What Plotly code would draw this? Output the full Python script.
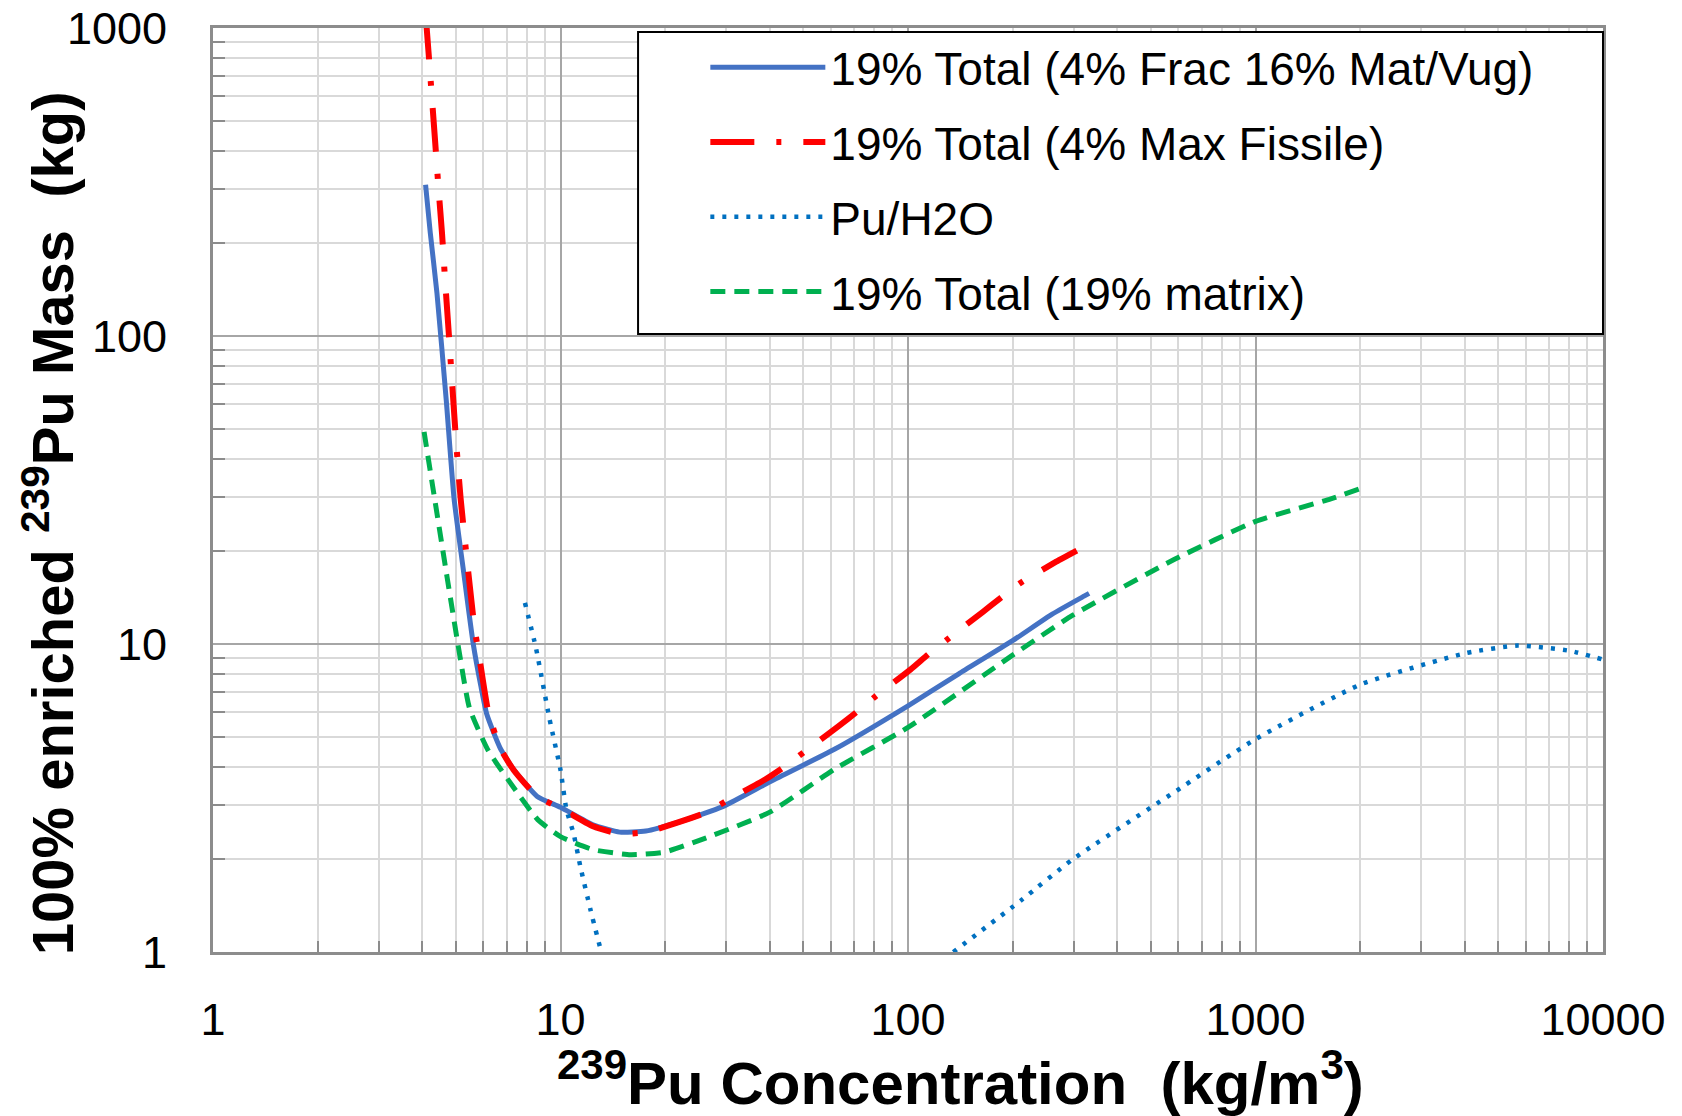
import plotly.graph_objects as go

# ---- data ----
frac_x = [4.09, 4.22, 4.41, 4.69, 4.94, 5.25, 5.61, 5.9, 6.14, 6.7, 7.33, 8.57, 10, 12.4, 14.8,
          17.6, 21.9, 29.4, 39.9, 61.6, 100, 140, 200, 260, 321, 332]
frac_y = [310, 216, 138, 62, 29.6, 17.5, 10, 7.3, 5.9, 4.6, 3.91, 3.2, 2.95, 2.59, 2.45,
          2.47, 2.64, 2.97, 3.56, 4.56, 6.3, 8.0, 10.25, 12.5, 14.3, 14.6]

maxf_x = [4.09, 4.12, 4.22, 4.36, 4.46, 4.56, 4.66, 4.77, 4.99, 5.16, 5.64, 5.9, 6.2, 6.7, 7.33,
          8.57, 10, 12.4, 14.8, 17.6, 21.9, 26.3, 30.1, 39.1, 44.3, 50.1, 63, 71.5, 80.5,
          101.6, 114, 129, 164, 184.5, 209, 267, 306]
maxf_y = [1100, 1000, 700, 424, 298, 216, 149, 102, 48, 29.6, 11.6, 8.4, 6.0, 4.6, 3.9,
          3.2, 2.93, 2.56, 2.42, 2.45, 2.64, 2.84, 3.10, 3.65, 4.01, 4.45, 5.4, 6.04, 6.75,
          8.26, 9.23, 10.3, 12.7, 14.1, 15.7, 18.5, 20.1]

puh2o_x = [7.9, 8.5, 9.3, 10, 10.4, 10.9, 11.4, 12.2, 13.1, None,
           135, 213, 298, 583, 1000, 2018, 4045, 5690, 8040, 10000]
puh2o_y = [13.6, 9.7, 5.7, 3.9, 2.9, 2.43, 1.9, 1.37, 1.0, None,
           1.0, 1.48, 2.0, 3.3, 4.91, 7.41, 9.35, 9.88, 9.5, 8.9]

matrix_x = [4.05, 4.35, 4.72, 5.09, 5.47, 6.2, 7.4, 8.6, 10, 12.4, 15.9, 19.9, 25.8, 39.9,
            61.6, 100, 200, 298, 583, 1000, 1647, 2026]
matrix_y = [48.8, 29.3, 16.4, 9.7, 6.2, 4.5, 3.37, 2.69, 2.37, 2.15, 2.07, 2.11, 2.33, 2.84,
            3.93, 5.36, 9.2, 12.4, 18.8, 25.0, 29.6, 32.1]

series_names = ["19% Total (4% Frac 16% Mat/Vug)", "19% Total (4% Max Fissile)",
                "Pu/H2O", "19% Total (19% matrix)"]

x_tickvals = [1, 10, 100, 1000, 10000]
x_ticktext = ["1", "10", "100", "1000", "10000"]
y_tickvals = [1, 10, 100, 1000]
y_ticktext = ["1", "10", "100", "1000"]

x_title = "<sup>239</sup>Pu Concentration\u00a0\u00a0(kg/m<sup>3</sup>)"
y_title = "100% enriched <sup>239</sup>Pu Mass\u00a0\u00a0(kg)"

# ---- figure ----
FONT = "Liberation Sans"
fig = go.Figure()
fig.add_trace(go.Scatter(x=frac_x, y=frac_y, mode="lines", name=series_names[0],
                         legendgroup="a",
                         line=dict(color="#4472C4", width=5, shape="spline", smoothing=0.5)))
fig.add_trace(go.Scatter(x=maxf_x, y=maxf_y, mode="lines", name=series_names[1],
                         legendgroup="b",
                         line=dict(color="#FF0000", width=6, dash="44px,22px,5px,22px",
                                   shape="spline", smoothing=0.5)))
fig.add_trace(go.Scatter(x=puh2o_x, y=puh2o_y, mode="lines", name=series_names[2],
                         legendgroup="c", connectgaps=False,
                         line=dict(color="#0070C0", width=4.5, dash="4px,8px",
                                   shape="spline", smoothing=0.5)))
fig.add_trace(go.Scatter(x=matrix_x, y=matrix_y, mode="lines", name=series_names[3],
                         legendgroup="d",
                         line=dict(color="#00B050", width=5, dash="15px,9px",
                                   shape="spline", smoothing=0.5)))

minor_vals = [m * 10 ** e for e in range(0, 4) for m in range(2, 10)]

axis_common = dict(
    type="log",
    showline=True, linecolor="#8c8c8c", linewidth=3, mirror=True,
    showgrid=True, gridcolor="#a6a6a6", gridwidth=2,
    zeroline=False, ticks="",
    tickfont=dict(family=FONT, size=45, color="black"),
)

fig.update_xaxes(**axis_common, range=[0, 4], tickmode="array",
                 tickvals=x_tickvals, ticktext=x_ticktext, ticklabelstandoff=26,
                 minor=dict(tickmode="array", tickvals=minor_vals, ticks="inside",
                            ticklen=11, tickwidth=2, tickcolor="#8c8c8c",
                            showgrid=True, gridcolor="#d9d9d9", gridwidth=2))
fig.update_yaxes(**axis_common, range=[0, 3], tickmode="array",
                 tickvals=y_tickvals, ticktext=y_ticktext, ticklabelstandoff=34,
                 minor=dict(tickmode="array", tickvals=minor_vals, ticks="inside",
                            ticklen=12, tickwidth=2, tickcolor="#8c8c8c",
                            showgrid=True, gridcolor="#d9d9d9", gridwidth=2))

fig.update_layout(
    width=1682, height=1116,
    margin=dict(l=213, r=79, t=28, b=164, autoexpand=False),
    paper_bgcolor="white", plot_bgcolor="white",
    font=dict(family=FONT, color="black"),
    showlegend=True,
    legend=dict(x=0.3542, y=0.9970, xanchor="left", yanchor="top",
                bgcolor="rgba(0,0,0,0)", borderwidth=0,
                font=dict(family=FONT, size=46, color="black"),
                itemwidth=115, tracegroupgap=12, traceorder="grouped"),
    shapes=[
        dict(type="rect", xref="paper", yref="paper", x0=0.3058, x1=1.0,
             y0=0.6688, y1=0.9957, layer="above",
             line=dict(color="black", width=2), fillcolor="white"),
    ],
    annotations=[
        dict(text=x_title, xref="paper", yref="paper", x=0.538, y=-0.137,
             xanchor="center", yanchor="middle", showarrow=False,
             font=dict(family=FONT, size=60, color="black", weight="bold")),
        dict(text=y_title, xref="paper", yref="paper", x=-0.1187, y=0.464,
             xanchor="center", yanchor="middle", showarrow=False, textangle=-90,
             font=dict(family=FONT, size=58, color="black", weight="bold")),
    ],
)

fig.write_html("out.html")
